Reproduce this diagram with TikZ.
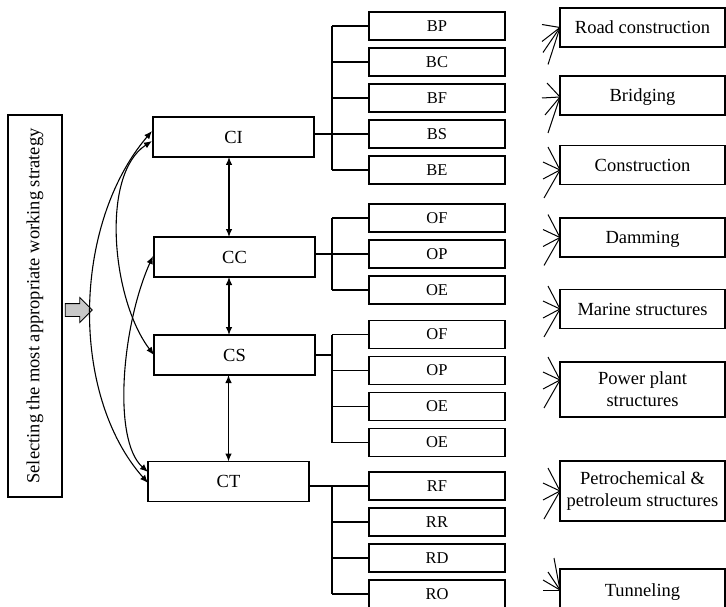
\documentclass[tikz,border=0pt]{standalone}
\usepackage{fontspec}
\setmainfont{Liberation Serif}
\usepackage{tikz}
\usetikzlibrary{arrows.meta,positioning,shapes.arrows,calc}
\usepackage{xcolor}
\definecolor{pickgray}{RGB}{200,200,200}

\begin{document}
\begin{tikzpicture}[
  x=1pt,y=-1pt,
  font=\fontsize{18.5}{22}\selectfont,
  cbox/.style={draw,line width=1.1pt,minimum width=161pt,minimum height=40pt,
               inner sep=0pt,outer sep=0pt},
  sub/.style={draw,line width=1.1pt,minimum width=136pt,minimum height=28pt,
              inner sep=0pt,outer sep=0pt,font=\fontsize{16.5}{18}\selectfont},
  field/.style={draw,line width=1.1pt,minimum width=165pt,minimum height=39pt,
                inner sep=0pt,outer sep=0pt,align=center},
  oneline/.style={text height=12.2pt,text depth=0pt},
  link/.style={line width=1.1pt},
  dbl/.style={{Latex[length=8pt,width=6.5pt]}-{Latex[length=8pt,width=6.5pt]},line width=1.1pt},
  fan/.style={line width=1pt},
  node distance=8pt
]
\useasboundingbox (0,0) rectangle (726,607);
\node[draw,line width=1.1pt,rotate=90,minimum width=382pt,minimum height=54pt,
      inner sep=0pt](sel) at (35,306){Selecting the most appropriate working strategy};
\node[single arrow,draw,fill=pickgray,line width=0.8pt,inner sep=6pt,
      minimum height=27pt,single arrow head extend=6pt](pick) at (75.5,310){};
\node[cbox](ci) at (233.5,137){CI};
\node[cbox](cc) at (234.5,257){CC};
\node[cbox](cs) at (234.5,355){CS};
\node[cbox](ct) at (228.5,481.5){CT};
\node[sub](bp) at (437,26){BP};
\node[sub,below=of bp](bc){BC};
\node[sub,below=of bc](bf){BF};
\node[sub,below=of bf](bs){BS};
\node[sub,below=of bs](be){BE};
\node[sub](ofa) at (437,218){OF};
\node[sub,below=of ofa](opa){OP};
\node[sub,below=of opa](oea){OE};
\node[sub](ofb) at (437,334.5){OF};
\node[sub,below=of ofb](opb){OP};
\node[sub,below=of opb](oeb){OE};
\node[sub,below=of oeb](oec){OE};
\node[sub](rf) at (437,486){RF};
\node[sub,below=of rf](rr){RR};
\node[sub,below=of rr](rd){RD};
\node[sub,below=of rd](ro){RO};
\node[field,oneline](road) at (642.5,27.5){Road construction};
\node[field,oneline](bridge) at (642.5,95.5){Bridging};
\node[field,oneline](build) at (642.5,165){Construction};
\node[field,oneline](dam) at (642.5,237.5){Damming};
\node[field,oneline](marine) at (642.5,309){Marine structures};
\node[field,minimum height=55pt](power) at (642.5,389.5){Power plant\\structures};
\node[field,minimum height=60pt](petro) at (642.5,491){Petrochemical \&\\petroleum structures};
\node[field,oneline,minimum height=42pt](tunnel) at (642.5,590){Tunneling};
\foreach \n in {bp,bc,bf,bs,be,ofa,opa,oea,ofb,opb,oeb,oec,rf,rr,rd,ro}
  \draw[link](\n.west)--++(-37,0);
\foreach \a/\b in {bp/be,ofa/oea,ofb/oec,rf/ro}
  \draw[link]($(\a.west)+(-37,0)$)--($(\b.west)+(-37,0)$);
\coordinate(csjoin) at ($(ofb.west)+(-37,0)$);
\draw[link](ci.east|-bs)--(bs.west);
\draw[link](cc.east|-opa)--(opa.west);
\draw[link](cs.east)--(cs.east-|csjoin);
\draw[link](ct.east|-rf)--(rf.west);
\draw[dbl]([xshift=-4.5pt]ci.south)--([xshift=-4.5pt]ci.south|-cc.north);
\draw[dbl]([xshift=-5.5pt]cc.south)--([xshift=-5.5pt]cc.south|-cs.north);
\draw[dbl](ct.north|-cs.south)--(ct.north);
\draw[dbl]($(ci.west)+(-1,-6)$) .. controls (72,225) and (70,395) .. ($(ct.west)+(0,1.5)$);
\draw[dbl]($(ci.west)+(-1,4)$) .. controls (100,175) and (112,300) .. (cs.west);
\draw[dbl]($(cc.west)+(-1,-1)$) .. controls (122,325) and (112,440) .. ($(ct.west)+(0,-9.5)$);
\coordinate(troad) at (road.west);
\coordinate(tbridge) at ($(bridge.west)+(0,1.5)$);
\coordinate(tbuild) at ($(build.west)+(0,5)$);
\coordinate(tdam) at (dam.west);
\coordinate(tmarine) at (marine.west);
\coordinate(tpower) at ($(power.west)+(0,-9.5)$);
\coordinate(tpetro) at (petro.west);
\coordinate(ttunnel) at (tunnel.west);
\foreach \dx/\dy in {-18/-3,-18/14,-17/25,-12/37}
  \draw[fan]($(troad)+(\dx,\dy)$)--(troad);
\foreach \dx/\dy in {-13/-14,-18/1,-15/18,-12/36}
  \draw[fan]($(tbridge)+(\dx,\dy)$)--(tbridge);
\foreach \t in {tbuild,tdam,tmarine,tpower,tpetro}
  \foreach \dx/\dy in {-12/-23,-17/-8,-17/9,-16/28}
    \draw[fan]($(\t)+(\dx,\dy)$)--(\t);
\foreach \dx/\dy in {-6/-32,-12/-18,-17/-10,-17/0}
  \draw[fan]($(ttunnel)+(\dx,\dy)$)--(ttunnel);
\end{tikzpicture}
\end{document}
